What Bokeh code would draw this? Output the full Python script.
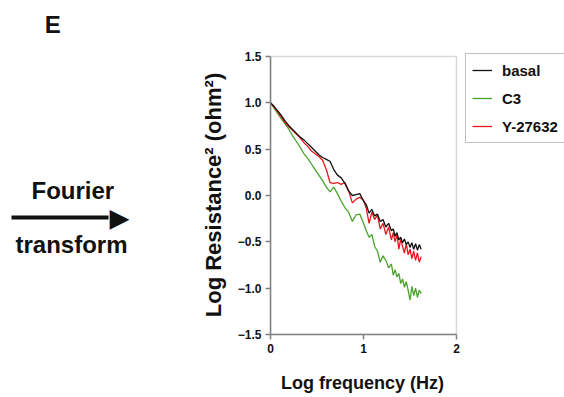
from bokeh.plotting import figure
from bokeh.models import (Range1d, Legend, LegendItem, FixedTicker, LinearAxis,
                          CustomJSTickFormatter, BoxAnnotation)
from bokeh.embed import file_html
from bokeh.resources import INLINE

# ---- data ----
log_freq = [0.00, 0.04, 0.08, 0.12, 0.16, 0.20, 0.24, 0.28, 0.32, 0.36, 0.40, 0.44, 0.48,
            0.52, 0.56, 0.60, 0.64, 0.68, 0.72, 0.76, 0.80, 0.84, 0.88, 0.92, 0.96, 1.00,
            1.03, 1.06, 1.09, 1.12, 1.15, 1.18, 1.21, 1.24, 1.27, 1.30,
            1.32, 1.34, 1.36, 1.38, 1.40, 1.42, 1.44, 1.46, 1.48, 1.50, 1.52, 1.54,
            1.56, 1.58, 1.60, 1.62]

basal = [1.00, 0.96, 0.91, 0.86, 0.80, 0.75, 0.71, 0.67, 0.63, 0.60, 0.56, 0.52, 0.48,
         0.44, 0.41, 0.39, 0.37, 0.28, 0.22, 0.19, 0.13, 0.05, 0.00, 0.01, 0.02, -0.06,
         -0.10, -0.19, -0.15, -0.22, -0.20, -0.28, -0.26, -0.34, -0.30, -0.38,
         -0.36, -0.44, -0.40, -0.48, -0.45, -0.51, -0.47, -0.53, -0.50, -0.56, -0.51, -0.58,
         -0.52, -0.59, -0.53, -0.58]

c3 = [1.00, 0.94, 0.88, 0.82, 0.77, 0.71, 0.64, 0.58, 0.52, 0.45, 0.40, 0.34, 0.28,
      0.22, 0.16, 0.09, 0.04, 0.09, 0.02, -0.06, -0.13, -0.18, -0.28, -0.21, -0.20, -0.30,
      -0.38, -0.45, -0.42, -0.55, -0.60, -0.72, -0.65, -0.70, -0.78, -0.74,
      -0.86, -0.80, -0.88, -0.84, -0.95, -0.90, -0.99, -0.93, -1.02, -1.13, -0.98, -1.08,
      -1.00, -1.10, -1.02, -1.06]

y27632 = [1.00, 0.95, 0.90, 0.84, 0.78, 0.74, 0.70, 0.66, 0.62, 0.57, 0.53, 0.48, 0.45,
          0.42, 0.38, 0.28, 0.14, 0.13, 0.14, 0.12, 0.14, 0.05, -0.08, -0.04, -0.02, -0.05,
          -0.14, -0.30, -0.18, -0.26, -0.21, -0.36, -0.30, -0.42, -0.34, -0.48,
          -0.40, -0.50, -0.42, -0.58, -0.47, -0.55, -0.62, -0.52, -0.64, -0.58, -0.68, -0.60,
          -0.70, -0.62, -0.72, -0.66]

series_names = ["basal", "C3", "Y-27632"]
x_ticks = [0, 1, 2]
y_ticks = [-1.5, -1.0, -0.5, 0.0, 0.5, 1.0, 1.5]
x_lim = (0, 2)
y_lim = (-1.5, 1.5)

FONT = "Liberation Sans"
AXIS_COL = "#808080"
TXT = "#111111"
NB = "\u00a0"

# The frame runs from x=270 to the right edge and from the top edge down to y=334;
# the plotted box (0..2, -1.5..1.5) sits in it at 270..456 / 56..334.
PX_X = 93.0     # pixels per x unit
PX_Y = 92.67    # pixels per y unit
p = figure(width=564, height=397, output_backend="svg", toolbar_location=None,
           x_range=Range1d(0, 2 + 108 / PX_X), y_range=Range1d(-1.5, 1.5 + 56 / PX_Y),
           min_border_left=270, min_border_right=0, min_border_top=0, min_border_bottom=63)
p.grid.visible = False
p.outline_line_color = None

for ax in (p.xaxis[0], p.yaxis[0]):
    ax.axis_line_color = AXIS_COL
    ax.axis_line_width = 1.5
    ax.major_tick_line_color = AXIS_COL
    ax.major_tick_line_width = 1.5
    ax.major_tick_out = 5
    ax.major_tick_in = 0
    ax.minor_tick_line_color = None
    ax.major_label_text_font = FONT
    ax.major_label_text_font_style = "bold"
    ax.major_label_text_font_size = "12px"
    ax.major_label_text_color = TXT
    ax.major_label_standoff = 4
    ax.axis_label_text_font = FONT
    ax.axis_label_text_font_style = "bold"
    ax.axis_label_text_color = TXT

p.xaxis.bounds = x_lim
p.yaxis.bounds = y_lim
p.xaxis.ticker = FixedTicker(ticks=x_ticks)
p.yaxis.ticker = FixedTicker(ticks=y_ticks)
p.yaxis.formatter = CustomJSTickFormatter(
    code="return (tick < 0 ? '\\u2212' : '') + Math.abs(tick).toFixed(1);")

# axis titles are centred on the whole frame; trailing no-break spaces re-centre
# the visible words on the plotting box
p.xaxis.axis_label = "Log frequency (Hz)" + NB * 22
p.xaxis.axis_label_text_font_size = "18px"
p.xaxis.axis_label_standoff = 17
p.yaxis.axis_label = "Log Resistance\u00b2 (ohm\u00b2)" + NB * 9
p.yaxis.axis_label_text_font_size = "22px"
p.yaxis.axis_label_standoff = 9

# box around the plotting area (top and right sides)
p.add_layout(BoxAnnotation(left=x_lim[0], right=x_lim[1], bottom=y_lim[0], top=y_lim[1],
                           fill_alpha=0, line_color=AXIS_COL, line_width=1.5))

r_c3 = p.line(log_freq, c3, line_color="#4aa42c", line_width=1.3)
r_y = p.line(log_freq, y27632, line_color="#e8161c", line_width=1.3)
r_b = p.line(log_freq, basal, line_color=TXT, line_width=1.3)


def dy(py):
    # reference pixel row -> data units of this frame
    return (195 - py) / PX_Y


# --- left side: "E", "Fourier", arrow head, "transform" as labels of a bare axis ---
side_ticks = [dy(244), dy(217), dy(190), dy(24)]
side_labels = ["transform", "\u25b6", "Fourier" + NB * 2, "E" + NB * 10]
side = LinearAxis(ticker=FixedTicker(ticks=side_ticks),
                  formatter=CustomJSTickFormatter(args=dict(labels=side_labels),
                                                  code="return labels[index];"),
                  axis_line_color=None, major_tick_line_color=None, minor_tick_line_color=None,
                  major_tick_out=0, major_tick_in=0, minor_tick_out=0, major_label_standoff=70,
                  major_label_text_font=FONT, major_label_text_font_style="bold",
                  major_label_text_font_size="24px", major_label_text_color=TXT)
p.add_layout(side, "left")

# arrow shaft: a single thick tick of another bare axis
shaft = LinearAxis(ticker=FixedTicker(ticks=[dy(217)]),
                   formatter=CustomJSTickFormatter(code="return '';"),
                   axis_line_color=None, major_tick_line_color=TXT, major_tick_line_width=4,
                   minor_tick_line_color=None, major_tick_out=1, major_tick_in=96,
                   minor_tick_out=0, major_label_standoff=0, major_label_text_font_size="1px")
p.add_layout(shaft, "left")

# --- legend, right of the plotting box ---
legend = Legend(items=[LegendItem(label=series_names[0], renderers=[r_b]),
                       LegendItem(label=series_names[1], renderers=[r_c3]),
                       LegendItem(label=series_names[2], renderers=[r_y])],
                location=(195, 191))
legend.border_line_color = AXIS_COL
legend.border_line_width = 1.2
legend.label_text_font = FONT
legend.label_text_font_style = "bold"
legend.label_text_font_size = "15px"
legend.label_text_color = TXT
legend.label_height = 20
legend.glyph_height = 20
legend.glyph_width = 20
legend.spacing = 8
legend.padding = 6
legend.margin = 0
legend.label_standoff = 10
p.add_layout(legend, "center")

open("out.html", "w").write(file_html(p, INLINE))
